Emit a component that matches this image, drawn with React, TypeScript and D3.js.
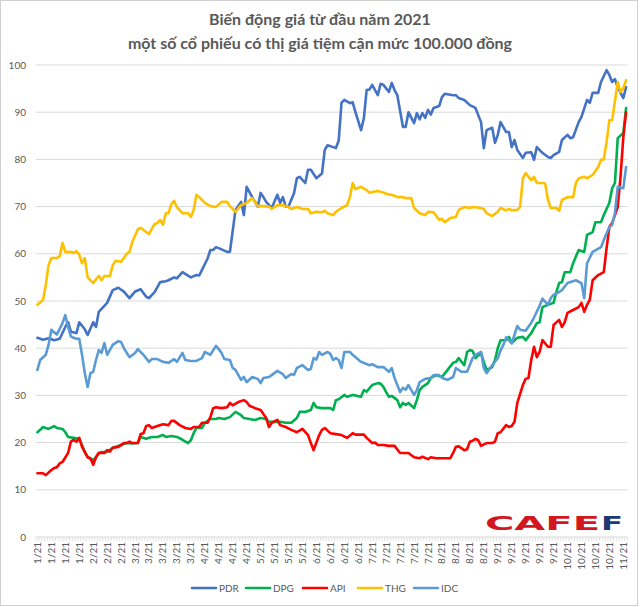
import React from "react";
import * as d3 from "d3";

const titleLines = ["Biến động giá từ đầu năm 2021", "một số cổ phiếu có thị giá tiệm cận mức 100.000 đồng"];

const xLabels = [
  "1/21", "1/21", "1/21", "1/21",
  "2/21", "2/21", "2/21",
  "3/21", "3/21", "3/21", "3/21", "3/21",
  "4/21", "4/21", "4/21", "4/21",
  "5/21", "5/21", "5/21", "5/21",
  "6/21", "6/21", "6/21", "6/21",
  "7/21", "7/21", "7/21", "7/21", "7/21",
  "8/21", "8/21", "8/21", "8/21",
  "9/21", "9/21", "9/21", "9/21", "9/21",
  "10/21", "10/21", "10/21", "10/21",
  "11/21",
];
const LABEL_EVERY = 5;
const N_DAYS = 212;
const yTicks = [0, 10, 20, 30, 40, 50, 60, 70, 80, 90, 100];

// [trading-day index, price (thousand VND)]
const PDR: [number, number][] = [[0,42.2],[2,41.8],[4,42.1],[6,41.7],[8,42.0],[10,44.5],[11,45.5],[12,43.5],[14,43.2],[15,45.5],[17,44.0],[18,42.8],[20,45.5],[21,44.5],[22,47.7],[25,49.6],[27,52.3],[29,52.8],[31,52.0],[33,50.6],[35,52.0],[37,52.5],[39,50.9],[40,50.6],[42,51.9],[44,54.0],[46,54.2],[47,54.4],[49,55.0],[50,54.8],[52,56.1],[55,55.0],[57,55.5],[58,55.4],[59,56.6],[61,59.0],[62,60.8],[63,60.8],[64,61.4],[65,61.2],[68,60.4],[69,60.4],[71,69.3],[73,71.0],[74,68.2],[75,74.2],[77,72.0],[79,70.0],[80,72.9],[81,72.0],[82,71.0],[84,69.7],[86,72.5],[87,70.8],[88,72.0],[89,70.0],[90,70.0],[92,72.9],[93,76.0],[94,76.3],[96,75.0],[97,77.8],[98,77.8],[100,76.0],[102,77.0],[103,82.0],[104,83.0],[106,82.6],[107,82.4],[108,84.0],[109,92.0],[110,92.6],[112,91.9],[113,92.1],[114,90.0],[116,86.2],[117,88.7],[118,94.7],[119,94.8],[120,95.8],[122,93.6],[123,96.0],[124,95.8],[126,94.3],[127,96.2],[128,94.7],[129,93.6],[131,86.9],[132,86.9],[133,90.0],[135,87.7],[136,89.8],[137,88.5],[138,89.8],[139,88.8],[140,90.5],[141,89.5],[142,90.9],[144,91.3],[145,93.2],[146,93.9],[149,93.6],[150,93.6],[151,93.0],[153,92.6],[155,91.5],[157,90.9],[159,87.9],[160,82.4],[161,86.2],[163,86.7],[164,83.5],[165,85.2],[166,87.9],[168,85.8],[169,85.8],[170,82.6],[171,84.1],[172,82.0],[174,80.3],[175,81.4],[177,81.5],[178,79.9],[179,82.6],[181,81.4],[183,80.5],[184,80.3],[185,80.9],[187,81.6],[188,84.1],[190,85.2],[191,84.5],[192,84.7],[194,87.9],[195,89.0],[197,92.6],[198,92.0],[199,94.1],[201,94.1],[202,96.4],[204,98.9],[205,97.9],[206,96.4],[207,97.0],[208,95.3],[210,93.0],[211,95.3]];

const DPG: [number, number][] = [[0,22.2],[1,22.7],[2,23.3],[4,22.9],[6,23.5],[7,23.1],[9,22.9],[10,22.2],[11,21.2],[13,21.0],[15,20.8],[16,19.5],[17,18.0],[18,16.9],[20,16.3],[21,16.9],[22,17.8],[23,18.0],[25,18.0],[27,18.9],[29,19.3],[30,19.5],[32,19.9],[34,19.8],[36,19.9],[37,21.2],[39,20.8],[41,21.2],[43,21.2],[45,21.6],[46,21.2],[48,21.4],[50,21.2],[52,20.6],[54,19.9],[55,20.5],[56,22.0],[57,23.1],[59,23.1],[60,24.2],[62,25.0],[64,25.0],[65,25.2],[67,25.0],[69,25.4],[71,26.5],[73,25.8],[74,25.2],[76,25.0],[78,24.8],[80,25.2],[82,25.0],[83,24.4],[85,24.4],[87,24.4],[89,24.2],[91,24.2],[93,25.2],[94,26.5],[96,26.5],[98,26.9],[99,28.4],[100,27.5],[102,27.3],[104,27.3],[105,27.3],[106,26.9],[107,29.0],[108,29.2],[110,30.1],[111,29.7],[113,30.1],[114,30.0],[116,29.7],[117,31.1],[118,30.8],[120,32.2],[122,32.6],[123,32.5],[124,31.8],[125,30.7],[126,29.7],[127,29.9],[129,29.0],[130,27.5],[131,28.4],[132,28.0],[133,28.4],[135,27.3],[136,29.0],[137,31.1],[138,31.8],[140,32.6],[141,33.7],[143,34.3],[145,33.9],[147,35.4],[149,36.9],[150,37.1],[151,37.9],[153,36.4],[154,39.2],[155,39.6],[156,39.4],[157,37.9],[159,39.0],[160,37.1],[161,35.4],[163,36.0],[164,37.5],[165,40.0],[166,41.7],[168,41.7],[169,42.4],[170,41.1],[172,42.2],[174,42.4],[175,41.7],[177,43.2],[179,45.3],[180,45.5],[181,48.7],[183,49.2],[185,49.6],[186,51.9],[187,53.8],[188,54.0],[189,56.1],[191,56.1],[192,58.0],[194,60.8],[196,60.4],[197,64.0],[199,64.6],[200,66.7],[202,66.7],[203,68.2],[205,70.8],[206,73.9],[207,75.0],[208,84.5],[210,85.6],[211,90.9]];

const API: [number, number][] = [[0,13.5],[2,13.5],[3,13.1],[5,14.2],[6,14.6],[7,14.8],[8,15.6],[9,15.9],[11,17.8],[12,20.2],[13,20.6],[14,20.2],[15,21.0],[16,19.1],[18,16.9],[19,16.7],[20,15.3],[21,16.9],[22,17.8],[24,17.8],[25,18.4],[26,18.1],[27,18.9],[29,19.1],[31,19.9],[32,19.9],[33,20.2],[34,19.9],[36,19.9],[37,21.8],[38,22.0],[39,23.5],[40,23.7],[41,23.1],[43,23.5],[45,23.9],[47,23.7],[48,24.6],[49,24.6],[51,23.7],[53,23.1],[55,22.9],[56,23.3],[58,23.3],[59,24.2],[61,24.2],[62,25.4],[63,27.3],[64,27.5],[66,27.3],[68,27.5],[69,28.4],[70,27.9],[72,28.6],[74,29.0],[75,28.6],[76,27.8],[78,27.3],[80,26.9],[82,25.2],[83,23.3],[84,24.2],[86,24.8],[87,23.7],[89,23.3],[91,22.7],[93,22.2],[95,22.9],[97,21.6],[98,19.9],[99,18.4],[101,21.6],[102,22.7],[103,23.1],[105,22.0],[107,21.8],[109,21.6],[111,21.0],[113,22.0],[114,21.7],[117,21.7],[118,21.0],[120,19.9],[121,20.0],[122,19.5],[124,19.5],[126,19.3],[128,19.3],[130,17.8],[132,17.8],[133,17.8],[135,16.9],[137,16.7],[138,17.0],[140,16.5],[141,16.9],[143,16.7],[145,16.7],[148,16.7],[149,17.8],[150,19.1],[151,19.2],[153,18.4],[154,18.6],[155,20.2],[156,20.4],[157,20.8],[158,20.5],[159,19.3],[161,19.9],[163,19.9],[164,20.2],[165,22.0],[166,22.2],[168,23.7],[169,23.3],[170,23.5],[171,24.4],[172,28.4],[174,32.2],[175,33.5],[176,33.7],[177,37.5],[178,40.3],[179,38.1],[180,39.2],[181,41.7],[183,40.3],[184,40.3],[185,44.9],[187,46.0],[188,44.5],[189,45.5],[190,47.5],[192,48.1],[194,48.7],[195,49.6],[196,47.7],[197,49.2],[198,50.3],[199,54.4],[201,55.5],[203,56.1],[204,61.2],[205,65.7],[206,66.5],[208,69.9],[209,76.3],[210,84.7],[211,90.0]];

const THG: [number, number][] = [[0,49.2],[2,50.2],[3,53.4],[4,57.6],[5,59.1],[7,59.1],[8,59.5],[9,62.3],[10,60.4],[12,60.4],[13,60.2],[14,60.6],[15,59.8],[16,58.0],[17,59.1],[18,55.0],[20,53.8],[21,54.6],[22,55.3],[23,54.4],[24,55.3],[26,55.3],[27,57.6],[28,58.5],[30,58.3],[31,59.1],[32,60.0],[33,60.4],[34,62.5],[36,65.2],[37,65.5],[39,64.6],[40,64.2],[41,65.3],[42,66.3],[43,66.5],[44,67.2],[45,66.1],[46,68.6],[47,68.6],[48,70.5],[49,71.2],[50,69.9],[52,68.6],[54,68.6],[55,67.8],[56,69.3],[57,72.5],[58,72.0],[60,70.8],[62,70.1],[64,69.9],[66,71.0],[68,71.0],[69,70.1],[71,68.9],[73,70.3],[75,70.8],[77,71.8],[79,70.1],[81,70.1],[83,70.0],[84,69.5],[86,70.3],[88,70.3],[90,69.9],[91,69.5],[93,69.9],[95,69.5],[97,69.5],[98,68.6],[100,68.9],[102,68.8],[103,69.1],[104,68.6],[106,68.2],[107,68.9],[109,69.7],[111,70.3],[112,72.0],[113,75.0],[114,73.7],[116,74.2],[118,73.5],[119,72.9],[120,73.1],[122,73.3],[124,73.0],[125,72.7],[127,72.5],[129,72.0],[131,72.0],[132,71.8],[134,71.8],[135,69.7],[137,68.6],[139,68.2],[140,68.9],[142,68.8],[144,67.2],[145,67.4],[146,66.7],[148,67.6],[150,67.8],[151,69.3],[153,69.9],[155,69.7],[156,69.9],[158,69.8],[160,69.5],[161,68.6],[163,68.0],[165,68.9],[166,69.7],[168,69.2],[169,69.5],[170,69.2],[172,69.3],[173,69.9],[174,76.0],[175,77.1],[177,75.6],[178,76.3],[179,75.0],[181,75.0],[182,74.9],[183,71.4],[184,69.7],[186,69.7],[187,69.1],[188,71.4],[190,72.0],[192,72.0],[193,75.0],[194,76.0],[196,76.3],[197,76.0],[199,76.7],[201,78.4],[202,79.9],[203,80.0],[204,83.7],[205,88.3],[206,88.3],[208,96.4],[209,94.3],[210,95.1],[211,96.8]];

const IDC: [number, number][] = [[0,35.4],[1,37.5],[3,38.6],[4,40.7],[5,43.9],[6,43.4],[7,42.9],[9,45.3],[10,47.0],[11,44.5],[12,42.5],[13,42.2],[14,42.0],[15,42.0],[16,38.6],[17,34.7],[18,31.8],[19,34.7],[20,35.0],[21,37.5],[22,39.6],[23,39.0],[24,41.1],[25,38.6],[27,40.7],[29,41.5],[30,41.3],[31,40.0],[33,38.1],[35,39.0],[36,39.8],[38,38.6],[40,37.1],[41,37.7],[43,37.7],[45,37.1],[47,36.9],[49,37.7],[50,37.1],[52,39.0],[53,37.5],[55,37.3],[57,37.3],[59,37.9],[60,39.2],[62,38.6],[64,40.5],[65,39.8],[66,39.0],[67,37.7],[69,37.5],[70,35.8],[71,35.4],[73,33.3],[74,33.9],[75,32.8],[77,33.9],[79,33.5],[80,32.6],[81,33.7],[83,33.9],[84,34.3],[86,35.2],[88,34.5],[89,33.7],[91,34.5],[92,34.4],[93,35.8],[95,36.4],[97,35.4],[98,35.6],[99,37.9],[100,37.6],[101,39.2],[102,38.6],[104,39.2],[105,38.8],[106,37.5],[107,37.9],[108,37.5],[109,35.8],[110,39.2],[112,39.2],[113,38.6],[116,37.1],[117,36.9],[119,36.4],[120,36.6],[122,36.0],[124,36.0],[126,35.0],[127,35.8],[128,33.7],[130,30.7],[131,31.6],[132,31.2],[133,32.2],[135,30.1],[136,31.1],[137,32.8],[139,33.5],[141,33.7],[142,34.3],[144,34.3],[145,33.7],[147,33.3],[149,33.9],[150,35.8],[152,35.0],[154,35.0],[156,37.9],[157,38.6],[159,39.2],[160,35.8],[161,34.7],[163,36.4],[165,37.9],[166,39.5],[167,40.7],[168,42.3],[170,41.0],[172,44.7],[173,43.9],[175,43.7],[177,45.4],[178,46.5],[180,49.0],[181,50.5],[183,49.2],[184,50.6],[185,51.3],[187,51.9],[188,52.3],[190,53.8],[193,54.4],[195,53.8],[196,50.6],[197,58.0],[199,60.4],[202,61.4],[203,62.9],[205,65.7],[206,66.1],[207,68.6],[208,74.2],[210,73.9],[211,78.4]];

const seriesNames = ["PDR", "DPG", "API", "THG", "IDC"];
const seriesData = [PDR, DPG, API, THG, IDC];
const seriesColors = ["#4472C4", "#00B050", "#FF0000", "#FFC000", "#5B9BD5"];

const FONT = "Lato, 'Open Sans', sans-serif";
const TEXT = "#595959";
const GRID = "#D9D9D9";

export default function App() {
  const W = 640, H = 607;
  const left = 36, right = 627.5, top = 65, bottom = 537;
  const x = d3.scaleLinear().domain([-0.5, N_DAYS - 0.5]).range([left, right]);
  const y = d3.scaleLinear().domain([0, 100]).range([bottom, top]);
  const line = d3.line<[number, number]>().x((d) => x(d[0])).y((d) => y(d[1]));
  const boundaries = d3.range(N_DAYS + 1).map((j) => x(j - 0.5));

  const legendStarts = [192, 246, 303, 358, 414];
  const legendY = 588;

  return (
    <div style={{ position: "absolute", left: 0, top: 0 }}>
      <svg width={W} height={H} style={{ display: "block", background: "#fff" }}>
        <rect x={0.5} y={0.5} width={637} height={605} fill="#fff" stroke="#D0D0D0" />
        {titleLines.map((t, i) => (
          <text key={i} x={320} y={25 + i * 24} textAnchor="middle" fontFamily={FONT}
            fontWeight={700} fontSize={16} fill={TEXT}>{t}</text>
        ))}
        {yTicks.map((t) => (
          <g key={t}>
            <line x1={left} x2={right} y1={y(t)} y2={y(t)} stroke={GRID} strokeWidth={1} />
            <text x={26} y={y(t)} dy="0.35em" textAnchor="end" fontFamily={FONT} fontSize={10} fill={TEXT}>{t}</text>
          </g>
        ))}
        {boundaries.map((bx, j) => (
          <line key={j} x1={bx} x2={bx} y1={bottom} y2={bottom + 4} stroke={GRID} strokeWidth={0.8} />
        ))}
        {xLabels.map((l, k) => (
          <text key={k} transform={`translate(${x(k * LABEL_EVERY)},542) rotate(-90)`}
            dy="0.35em" textAnchor="end" fontFamily={FONT} fontSize={10} fill={TEXT}>{l}</text>
        ))}
        <g>
          <text x={485} y={530} fontFamily="'DejaVu Sans', sans-serif" fontWeight={700} fontSize={20}
            fill="#D2181E" textLength={115} lengthAdjust="spacingAndGlyphs">CAFE</text>
          <text x={601} y={530} fontFamily="'DejaVu Sans', sans-serif" fontWeight={700} fontSize={20}
            fill="#1B3A73" textLength={22} lengthAdjust="spacingAndGlyphs">F</text>
        </g>
        {seriesData.map((s, i) => (
          <path key={seriesNames[i]} d={line(s) || ""} fill="none" stroke={seriesColors[i]}
            strokeWidth={2.6} strokeLinejoin="round" strokeLinecap="round" />
        ))}
        {seriesNames.map((n, i) => (
          <g key={n}>
            <line x1={legendStarts[i]} x2={legendStarts[i] + 24} y1={legendY} y2={legendY}
              stroke={seriesColors[i]} strokeWidth={2.6} strokeLinecap="round" />
            <text x={legendStarts[i] + 27} y={legendY} dy="0.35em" fontFamily={FONT} fontSize={10} fill={TEXT}>{n}</text>
          </g>
        ))}
      </svg>
    </div>
  );
}
